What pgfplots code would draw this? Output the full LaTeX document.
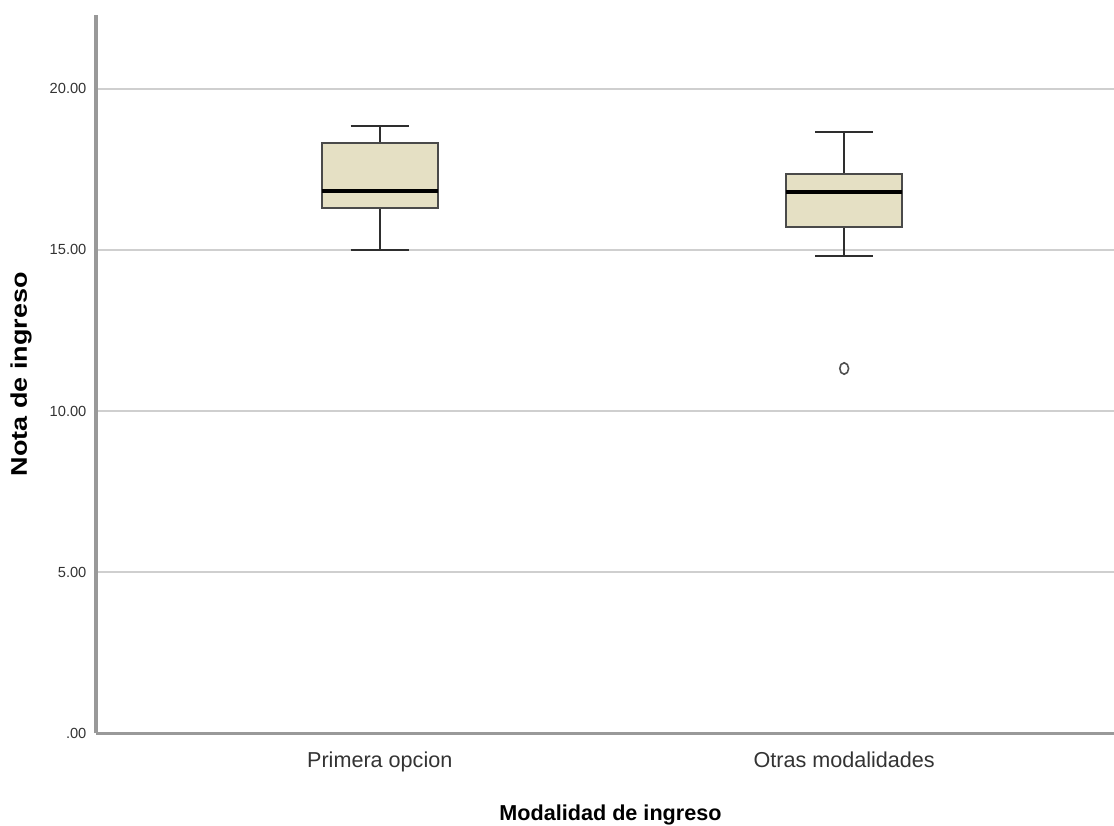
\documentclass[border=0pt]{standalone}
\usepackage{pgfplots}
\pgfplotsset{compat=1.18}
\usepgfplotslibrary{statistics}
\usepackage{graphicx}
\usepackage{fontspec}
\setmainfont{Liberation Sans}
\definecolor{boxfill}{HTML}{E5E0C4}
\definecolor{boxedge}{HTML}{4A4A4A}
\definecolor{whisk}{HTML}{2E2E2E}
\definecolor{axisgray}{HTML}{999999}
\definecolor{gridgray}{HTML}{CFCFCF}
\definecolor{tickgray}{HTML}{333333}
\definecolor{outl}{HTML}{505050}
\begin{document}
\begin{tikzpicture}
\path[use as bounding box, clip] (-72pt,-69.5pt) rectangle (763.5pt,549.95pt);
\begin{axis}[
  scale only axis, width=763.5pt, height=538.7pt,
  xmin=0.389, xmax=2.581, ymin=0, ymax=22.29,
  axis x line=bottom, axis y line=left,
  axis line style={-, draw=axisgray, line width=2.3pt},
  xtick={1,2}, xticklabels={Primera opcion, Otras modalidades},
  ytick={0,5,10,15,20}, yticklabels={.00,5.00,10.00,15.00,20.00},
  major tick length=0pt,
  ymajorgrids, major grid style={draw=gridgray, line width=1.8pt},
  xticklabel style={font=\fontsize{16.2}{18}\selectfont, text=tickgray, anchor=base, yshift=-25.3pt},
  yticklabel style={font=\fontsize{11}{12}\selectfont, text=tickgray, anchor=east, inner sep=0pt, xshift=-7pt},
  xlabel={Modalidad de ingreso},
  xlabel style={at={(axis description cs:0.5054,-0.1221)}, anchor=base, font=\fontsize{16.2}{18}\selectfont\bfseries},
  ylabel={\scalebox{1.19}[1]{Nota de ingreso}},
  ylabel style={at={(axis description cs:-0.0737,0.5)}, anchor=center, font=\fontsize{17}{19}\selectfont\bfseries},
  boxplot/draw direction=y,
  boxplot/every box/.style={draw=boxedge, fill=boxfill, line width=1.7pt},
  boxplot/every whisker/.style={draw=whisk, line width=1.8pt},
  boxplot/every median/.style={draw=black, line width=3pt},
]
\addplot[boxplot prepared={lower whisker=15.00, lower quartile=16.31, median=16.82, upper quartile=18.32, upper whisker=18.85, draw position=1, box extend=0.25, whisker extend=0.125}] coordinates {};
\addplot[boxplot prepared={lower whisker=14.82, lower quartile=15.72, median=16.79, upper quartile=17.35, upper whisker=18.65, draw position=2, box extend=0.25, whisker extend=0.125}] coordinates {};
\addplot[only marks, mark=o, mark size=3.3pt, mark options={draw=outl, line width=1.2pt, yscale=1.3}] coordinates {(2,11.32)};
\end{axis}
\end{tikzpicture}
\end{document}
